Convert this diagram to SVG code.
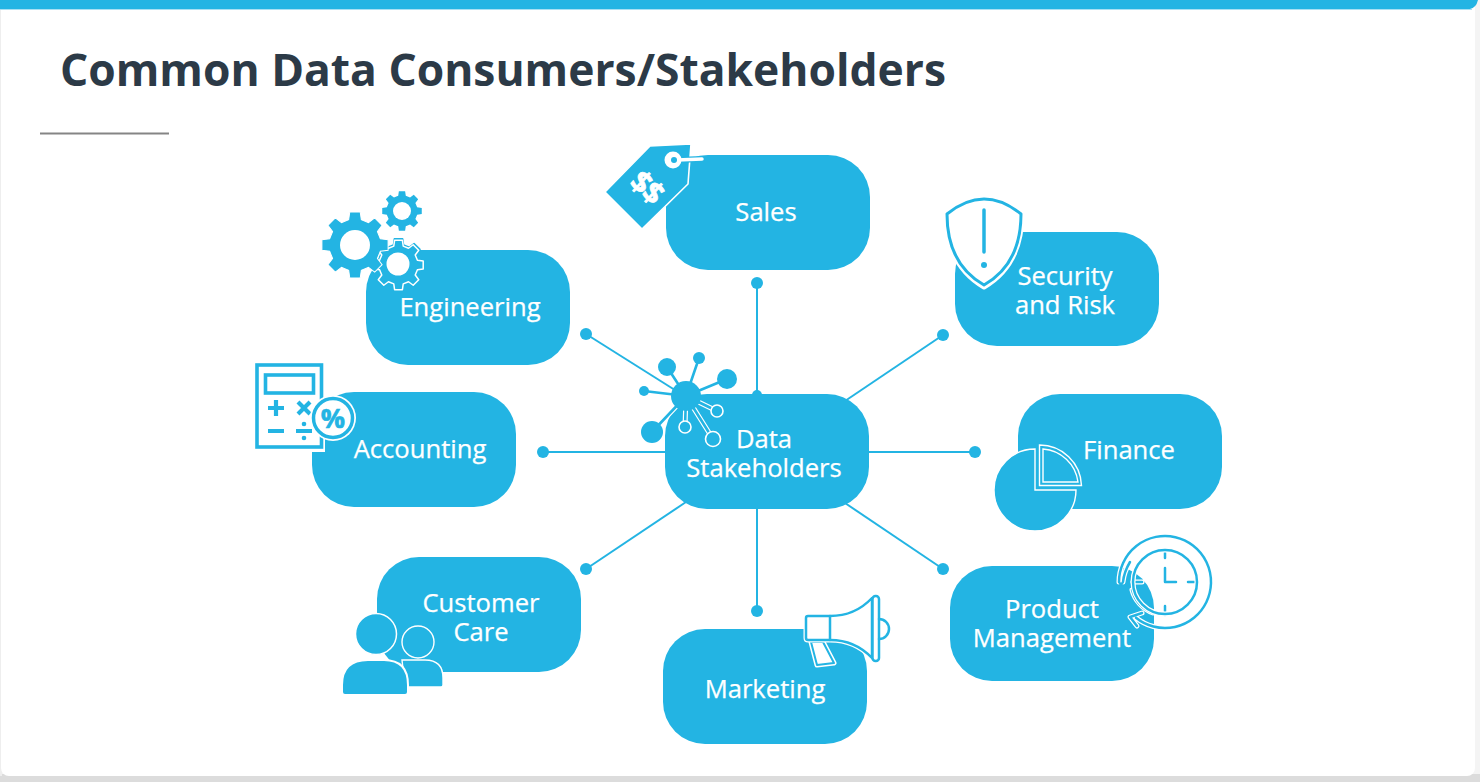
<svg xmlns="http://www.w3.org/2000/svg" width="1480" height="782" viewBox="0 0 1480 782">
<style>
.pill{fill:#23b4e3}
.lbl{font-family:"Open Sans","Noto Sans",sans-serif;font-size:25.6px;fill:#fff;stroke:#fff;stroke-width:.25;text-anchor:middle}
.conn{stroke:#23b4e3;stroke-width:2;fill:none}
.dot{fill:#23b4e3}
.b{fill:#23b4e3}
.halo{fill:none;stroke:#fff;stroke-width:5;stroke-linecap:round;stroke-linejoin:round}
.ln{fill:none;stroke:#23b4e3;stroke-width:2.5;stroke-linecap:round;stroke-linejoin:round}
.edge{fill:none;stroke:#fff;stroke-width:1.4}
</style>
<defs>
<polygon id="gear" points="75.7,-18.9 98.8,-15.6 98.8,15.6 75.7,18.9 66.9,40.2 80.9,58.8 58.8,80.9 40.2,66.9 18.9,75.7 15.6,98.8 -15.6,98.8 -18.9,75.7 -40.2,66.9 -58.8,80.9 -80.9,58.8 -66.9,40.2 -75.7,18.9 -98.8,15.6 -98.8,-15.6 -75.7,-18.9 -66.9,-40.2 -80.9,-58.8 -58.8,-80.9 -40.2,-66.9 -18.9,-75.7 -15.6,-98.8 15.6,-98.8 18.9,-75.7 40.2,-66.9 58.8,-80.9 80.9,-58.8 66.9,-40.2"/>
</defs>
<rect width="1480" height="782" fill="#f4f4f4"/>
<rect x="0" y="774" width="1480" height="8" fill="#dcdcdc"/>
<rect x="0" y="0" width="2" height="776" fill="#eeeeee"/>
<rect x="1" y="0" width="1474" height="776" rx="8" fill="#fff"/>
<path d="M0,0H1478Q1476,8 1470,9H0Z" fill="#23b4e3"/>
<rect x="0" y="9" width="1472" height="1" fill="#a8e0f3"/>
<text x="60" y="86" font-family="'Open Sans','Noto Sans',sans-serif" font-weight="700" font-size="44.4" fill="#2c3a47">Common Data Consumers/Stakeholders</text>
<rect x="40" y="132.500" width="129" height="2" fill="#858585"/>

<g id="connectors">
<line class="conn" x1="757" y1="283" x2="757" y2="396"/>
<line class="conn" x1="586" y1="334" x2="686" y2="397"/>
<line class="conn" x1="943" y1="335" x2="845" y2="401"/>
<line class="conn" x1="543" y1="452" x2="670" y2="452"/>
<line class="conn" x1="975" y1="452" x2="865" y2="452"/>
<line class="conn" x1="586" y1="569" x2="686" y2="502"/>
<line class="conn" x1="757" y1="611" x2="757" y2="505"/>
<line class="conn" x1="943" y1="569" x2="845" y2="503"/>
<circle class="dot" cx="757" cy="283" r="6"/>
<circle class="dot" cx="586" cy="334" r="6"/>
<circle class="dot" cx="943" cy="335" r="6"/>
<circle class="dot" cx="543" cy="452" r="6"/>
<circle class="dot" cx="975" cy="452" r="6"/>
<circle class="dot" cx="586" cy="569" r="6"/>
<circle class="dot" cx="757" cy="611" r="6"/>
<circle class="dot" cx="943" cy="569" r="6"/>
</g>

<g id="node-sales">
<rect class="pill" x="666" y="155" width="204" height="115" rx="42"/>
<polygon points="605,192 650,146 691,144 688,184 642,229" class="b" stroke="#fff" stroke-width="1.600"/>
<line x1="677" y1="160" x2="702" y2="159" stroke="#23b4e3" stroke-width="6" stroke-linecap="round"/>
<line x1="677" y1="160" x2="702" y2="159" stroke="#fff" stroke-width="3.500" stroke-linecap="round"/>
<circle cx="673" cy="160" r="8.500" fill="#fff"/>
<circle cx="674" cy="160" r="3" class="b"/>
<text x="0" y="0" transform="translate(640,195) rotate(42)" font-family="'Open Sans',sans-serif" font-weight="700" font-size="30" letter-spacing="-1" fill="#fff" stroke="#fff" stroke-width=".7" text-anchor="middle">$$</text>
<text class="lbl" x="766" y="221">Sales</text>
</g>

<g id="node-engineering">
<rect class="pill" x="366" y="250" width="204" height="115" rx="42"/>
<use href="#gear" transform="translate(398.500,265) scale(.265)" class="b" stroke="#23b4e3" stroke-width="6" stroke-linejoin="round"/>
<use href="#gear" transform="translate(398.500,265) scale(.25)" fill="none" stroke="#fff" stroke-width="6" stroke-linejoin="round"/>
<circle cx="398" cy="264" r="11.500" fill="#fff"/>
<use href="#gear" transform="translate(355,245) scale(.335)" class="b" stroke="#fff" stroke-width="3"/>
<circle cx="355" cy="245" r="15" fill="#fff"/>
<use href="#gear" transform="translate(402,211) scale(.2)" class="b"/>
<circle cx="402" cy="211" r="9" fill="#fff"/>
<text class="lbl" x="470" y="316">Engineering</text>
</g>

<g id="node-security">
<rect class="pill" x="955" y="232" width="204" height="114" rx="42"/>
<path d="M946,213 Q984,183 1022,213 Q1022,265 984,287 Q946,265 946,213Z" fill="#fff" stroke="#fff" stroke-width="5" stroke-linejoin="round"/>
<path d="M947,214 Q984,184 1021,214 Q1021,264 984,285 Q947,264 947,214Z" class="ln" style="fill:#fff;stroke-width:3"/>
<line class="ln" x1="984" y1="210" x2="984" y2="252" style="stroke-width:3.500"/>
<circle class="b" cx="984" cy="265" r="3"/>
<text class="lbl" x="1065" y="285">Security</text>
<text class="lbl" x="1065" y="314">and Risk</text>
</g>

<g id="node-accounting">
<rect class="pill" x="312" y="392" width="204" height="115" rx="42"/>
<rect x="253" y="361" width="72" height="91" fill="#fff"/>
<rect x="257" y="365" width="64.500" height="82" fill="#fff" stroke="#23b4e3" stroke-width="3.600"/>
<rect x="265.500" y="375" width="48" height="18" fill="none" stroke="#23b4e3" stroke-width="3.600"/>
<path d="M268,408H284M276,400V416M298,402L310,414M310,402L298,414M268,431H284M296,431H312" fill="none" stroke="#23b4e3" stroke-width="4.200"/>
<circle class="b" cx="304" cy="424" r="2.300"/>
<circle class="b" cx="304" cy="438" r="2.300"/>
<circle cx="333" cy="418" r="23" fill="#fff"/>
<circle cx="333" cy="418" r="19.500" fill="#fff" stroke="#23b4e3" stroke-width="3.500"/>
<text x="333" y="428" font-family="'Open Sans',sans-serif" font-weight="700" font-size="27" fill="#23b4e3" stroke="#23b4e3" stroke-width=".6" text-anchor="middle">%</text>
<text class="lbl" x="420" y="458">Accounting</text>
</g>

<g id="node-center">
<circle class="dot" cx="757" cy="395" r="5"/>
<rect class="pill" x="665" y="394" width="204" height="115" rx="42"/>
<path class="halo" d="M686,396L667,367M686,396L699,358M686,396L727,379M686,396L644,391M686,396L652,432M686,396L685,427M686,396L717,411M686,396L713,439"/>
<path d="M686,396L667,367M686,396L699,358M686,396L727,379M686,396L644,391M686,396L652,432M686,396L685,427M686,396L717,411M686,396L713,439" fill="none" stroke="#23b4e3" stroke-width="2.600"/>
<circle class="b" cx="667" cy="367" r="9"/>
<circle class="b" cx="699" cy="358" r="6"/>
<circle class="b" cx="727" cy="379" r="10"/>
<circle class="b" cx="644" cy="391" r="5"/>
<circle class="b" cx="652" cy="432" r="11"/>
<circle class="b" cx="685" cy="427" r="6" stroke="#fff" stroke-width="1.600"/>
<circle class="b" cx="717" cy="411" r="6" stroke="#fff" stroke-width="1.600"/>
<circle class="b" cx="713" cy="439" r="7.500" stroke="#fff" stroke-width="1.600"/>
<circle class="b" cx="686" cy="396" r="15"/>
<text class="lbl" x="764" y="448">Data</text>
<text class="lbl" x="764" y="477">Stakeholders</text>
</g>

<g id="node-finance">
<rect class="pill" x="1018" y="394" width="204" height="115" rx="42"/>
<path class="b" d="M1035,449 A41,41 0 1 0 1076,490 L1035,490 Z" stroke="#fff" stroke-width="1.400"/>
<path class="edge" d="M1039.500,445 A42,42 0 0 1 1081.500,485.500 L1039.500,485.500 Z"/>
<path class="edge" d="M1043,449 A38,38 0 0 1 1078,482 L1043,482 Z"/>
<text class="lbl" x="1129" y="459">Finance</text>
</g>

<g id="node-customer">
<rect class="pill" x="377" y="557" width="204" height="115" rx="42"/>
<path class="b" d="M402,660 H425 Q443,660 443,678 V685 Q443,687 441,687 H405 Z" stroke="#fff" stroke-width="1.400"/>
<circle class="b" cx="418" cy="642" r="16" stroke="#fff" stroke-width="1.400"/>
<path class="b" d="M342,685 Q342,660 368,660 H384 Q408,660 408,685 V692 Q408,695 405,695 H345 Q342,695 342,692 Z" stroke="#fff" stroke-width="2"/>
<circle class="b" cx="376" cy="634" r="20.500" stroke="#fff" stroke-width="1.500"/>
<text class="lbl" x="481" y="612">Customer</text>
<text class="lbl" x="481" y="641">Care</text>
</g>

<g id="node-marketing">
<rect class="pill" x="663" y="629" width="204" height="115" rx="42"/>
<path d="M811,642H823L834,663L817,665Z" fill="#fff" stroke="#fff" stroke-width="5" stroke-linejoin="round"/>
<path class="ln" style="fill:#fff;stroke-width:2" d="M811,642H823L834,663L817,665Z"/>
<path d="M808,616H830Q855,616 872,598V658Q855,640 830,640H808Q806,640 806,638V618Q806,616 808,616Z" fill="#fff" stroke="#fff" stroke-width="5" stroke-linejoin="round"/>
<path class="ln" style="fill:#fff" d="M808,616H830Q855,616 872,598V658Q855,640 830,640H808Q806,640 806,638V618Q806,616 808,616Z"/>
<line class="ln" x1="830" y1="616" x2="830" y2="640"/>
<rect x="872.500" y="596" width="6.500" height="65" rx="3" fill="#fff" stroke="#23b4e3" stroke-width="2.500"/>
<path class="ln" d="M879,619A10,10 0 0 1 879,639"/>
<text class="lbl" x="765" y="698">Marketing</text>
</g>

<g id="node-product">
<rect class="pill" x="950" y="566" width="204" height="115" rx="42"/>
<g id="clock">
<path class="halo" d="M1119,582A46,46 0 1 1 1136,617.700M1132,590A34,34 0 0 0 1153,613M1165,550V558M1165,606V615M1188,582H1197M1133,582H1142M1165,568V582H1176M1142,613L1130,617L1137,626M1123,582Q1124,572 1130,562"/>
<path class="ln" d="M1119,582A46,46 0 1 1 1136,617.700M1119,582Q1121,586 1123,582M1123,582Q1124,572 1130,562M1132,590A34,34 0 0 0 1153,613M1165,550V558M1165,606V615M1188,582H1197M1133,582H1142M1165,568V582H1176M1142,613L1130,617L1137,626"/>
<circle cx="1165" cy="582" r="32" fill="none" stroke="#fff" stroke-width="5"/>
<circle cx="1165" cy="582" r="32" fill="none" stroke="#23b4e3" stroke-width="2.500"/>
</g>
<text class="lbl" x="1052" y="618">Product</text>
<text class="lbl" x="1052" y="647">Management</text>
</g>
</svg>
